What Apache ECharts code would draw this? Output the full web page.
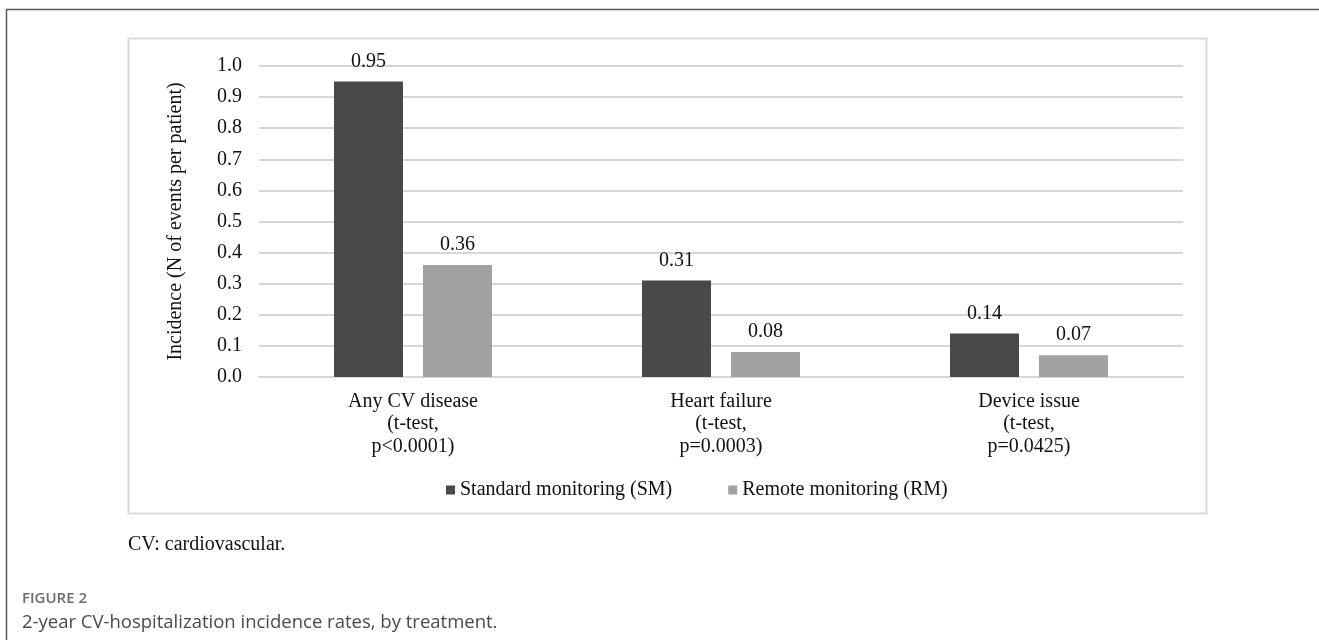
<!DOCTYPE html>
<html>
<head>
<meta charset="utf-8">
<script src="https://cdn.jsdelivr.net/npm/echarts@6/dist/echarts.min.js"></script>
<style>
  html, body { margin: 0; padding: 0; background: #ffffff; }
  #chart { width: 1319px; height: 640px; }
</style>
</head>
<body>
<div id="chart"></div>
<script>
// ---- Data ----
const categories = [
  'Any CV disease\n(t-test,\np<0.0001)',
  'Heart failure\n(t-test,\np=0.0003)',
  'Device issue\n(t-test,\np=0.0425)'
];
const seriesNames = ['Standard monitoring (SM)', 'Remote monitoring (RM)'];
const smValues = [0.95, 0.31, 0.14];
const rmValues = [0.36, 0.08, 0.07];
const yAxisTitle = 'Incidence (N of events per patient)';
const footnote = 'CV: cardiovascular.';
const figureLabel = 'FIGURE 2';
const figureCaption = '2-year CV-hospitalization incidence rates, by treatment.';

// ---- Styles ----
const SERIF = '"Liberation Serif", "Times New Roman", serif';
const SANS = '"Open Sans", "Noto Sans", sans-serif';
const colors = ['#494949', '#a2a2a2'];

const chart = echarts.init(document.getElementById('chart'), null, { renderer: 'canvas' });

const labelStyle = {
  show: true,
  position: 'top',
  distance: 10,
  fontFamily: SERIF,
  fontSize: 20,
  color: '#111',
  formatter: p => p.value.toFixed(2)
};

chart.setOption({
  backgroundColor: '#ffffff',
  animation: false,
  color: colors,
  grid: { left: 259, right: 136, top: 66, bottom: 263 },
  legend: {
    data: seriesNames,
    left: 441,
    top: 475,
    icon: 'rect',
    itemWidth: 9,
    itemHeight: 9,
    itemGap: 56,
    textStyle: { fontFamily: SERIF, fontSize: 20, color: '#111' }
  },
  xAxis: {
    type: 'category',
    data: categories,
    axisLine: { show: true, lineStyle: { color: '#d6d6d6', width: 2 } },
    axisTick: { show: false },
    axisLabel: {
      margin: 13,
      fontFamily: SERIF,
      fontSize: 20,
      lineHeight: 22.5,
      color: '#111',
      align: 'center'
    }
  },
  yAxis: {
    type: 'value',
    min: 0,
    max: 1,
    interval: 0.1,
    name: yAxisTitle,
    nameLocation: 'middle',
    nameGap: 73,
    nameRotate: 90,
    nameTextStyle: { fontFamily: SERIF, fontSize: 20, color: '#111' },
    axisLine: { show: false },
    axisTick: { show: false },
    splitLine: { show: true, lineStyle: { color: '#d6d6d6', width: 2 } },
    axisLabel: {
      margin: 17,
      fontFamily: SERIF,
      fontSize: 20,
      color: '#111',
      formatter: v => v.toFixed(1)
    }
  },
  series: [
    {
      name: seriesNames[0],
      type: 'bar',
      data: smValues,
      barGap: '29%',
      barCategoryGap: '48.7%',
      itemStyle: { color: colors[0] },
      label: labelStyle
    },
    {
      name: seriesNames[1],
      type: 'bar',
      data: rmValues,
      barGap: '29%',
      barCategoryGap: '48.7%',
      itemStyle: { color: colors[1] },
      label: labelStyle
    }
  ],
  graphic: [
    {
      type: 'rect', silent: true, z: -10,
      shape: { x: 6.5, y: 9.5, width: 1400, height: 700 },
      style: { fill: 'none', stroke: '#5a5a5a', lineWidth: 1.5 }
    },
    {
      type: 'rect', silent: true, z: -9,
      shape: { x: 128.5, y: 38.5, width: 1078, height: 475 },
      style: { fill: 'none', stroke: '#d9d9d9', lineWidth: 2 }
    },
    {
      type: 'text', silent: true,
      x: 128, y: 545,
      style: { text: footnote, fontFamily: SERIF, fontSize: 20, fill: '#111', verticalAlign: 'middle', align: 'left' }
    },
    {
      type: 'text', silent: true,
      x: 22, y: 599,
      style: { text: figureLabel, fontFamily: SANS, fontSize: 15, fontWeight: 600, fill: '#6b6b6b', verticalAlign: 'middle', align: 'left' }
    },
    {
      type: 'text', silent: true,
      x: 22, y: 623,
      style: { text: figureCaption, fontFamily: SANS, fontSize: 18.5, fill: '#4a4a4a', verticalAlign: 'middle', align: 'left' }
    }
  ]
});
</script>
</body>
</html>
